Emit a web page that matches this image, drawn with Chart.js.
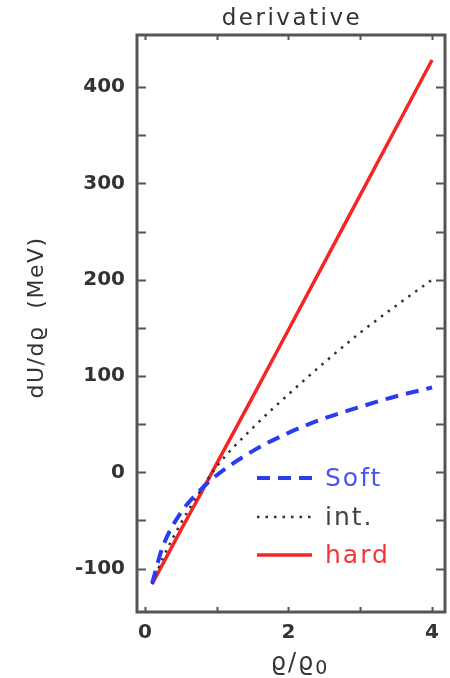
<!DOCTYPE html>
<html>
<head>
<meta charset="utf-8">
<script src="https://cdn.jsdelivr.net/npm/chart.js@4/dist/chart.umd.min.js"></script>
<style>
  html, body { margin: 0; padding: 0; background: #fff; }
  #wrap { width: 450px; height: 678px; }
</style>
</head>
<body>
<div id="wrap"><canvas id="c" width="450" height="678"></canvas></div>
<script>
// density ratio rho/rho0 and derivative of the potential (MeV)
const densities   = [0.1, 0.25, 0.5, 0.75, 1, 1.5, 2, 2.5, 3, 3.5, 4];
const softValues  = [-115, -77, -42, -20, -3, 22, 41, 56, 68, 79, 88];
const intValues   = [-116, -89, -53, -22, 6, 46, 81, 114, 145, 173, 200];
const hardValues  = [-116, -95, -60, -26, 9, 78, 148, 218, 288, 358, 428];
const seriesLabels = ['Soft', 'int.', 'hard'];
const xTickValues = [0, 2, 4];
const yTickValues = [-100, 0, 100, 200, 300, 400];
const chartTitle = 'derivative';
const xTitleMain = 'ϱ/ϱ';
const xTitleSub = '0';
const yTitle = 'dU/dϱ  (MeV)';

const FONT = 'DejaVu Sans';
const INK = '#333';

const pts = vals => densities.map((x, i) => ({ x, y: vals[i] }));

// frame, inward tick marks, titles and the in-plot legend
const decorations = {
  id: 'decorations',
  afterDraw(chart) {
    const ctx = chart.ctx;
    const a = chart.chartArea;
    const xs = chart.scales.x, ys = chart.scales.y;
    ctx.save();

    // inward ticks
    ctx.strokeStyle = '#555';
    ctx.lineWidth = 2;
    ctx.beginPath();
    for (let v = -100; v <= 400; v += 50) {
      const y = Math.round(ys.getPixelForValue(v)) + 0.5;
      ctx.moveTo(a.left, y); ctx.lineTo(a.left + 9, y);
      ctx.moveTo(a.right - 9, y); ctx.lineTo(a.right, y);
    }
    for (let v = 0; v <= 4; v += 1) {
      const x = Math.round(xs.getPixelForValue(v)) + 0.5;
      ctx.moveTo(x, a.bottom); ctx.lineTo(x, a.bottom - 5);
      ctx.moveTo(x, a.top); ctx.lineTo(x, a.top + 5);
    }
    ctx.stroke();

    // frame
    ctx.lineWidth = 3;
    ctx.strokeStyle = '#555';
    ctx.strokeRect(a.left, a.top, a.right - a.left, a.bottom - a.top);

    // main title
    ctx.fillStyle = INK;
    ctx.textAlign = 'center';
    ctx.textBaseline = 'middle';
    ctx.font = `23px "${FONT}"`;
    ctx.letterSpacing = '2.5px';
    ctx.fillText(chartTitle, (a.left + a.right) / 2 + 1, 19);

    // x axis title: rho / rho0 with a lowered zero
    ctx.font = `24px "${FONT}"`;
    ctx.letterSpacing = '2px';
    ctx.textAlign = 'left';
    const mainW = ctx.measureText(xTitleMain).width;
    ctx.font = `19px "${FONT}"`;
    const subW = ctx.measureText(xTitleSub).width;
    const startX = 300 - (mainW + subW) / 2;
    ctx.font = `24px "${FONT}"`;
    ctx.fillText(xTitleMain, startX, 664);
    ctx.font = `19px "${FONT}"`;
    ctx.fillText(xTitleSub, startX + mainW, 669);

    // y axis title
    ctx.save();
    ctx.translate(37, (a.top + a.bottom) / 2 - 6);
    ctx.rotate(-Math.PI / 2);
    ctx.textAlign = 'center';
    ctx.font = `22px "${FONT}"`;
    ctx.letterSpacing = '1.5px';
    ctx.fillText(yTitle, 0, 0);
    ctx.restore();

    // legend inside the plot
    const rows = [478, 517, 555];
    const x0 = a.left + 120, x1 = a.left + 175, tx = a.left + 188;
    chart.data.datasets.forEach((ds, i) => {
      const y = rows[i];
      ctx.save();
      ctx.strokeStyle = ds.borderColor;
      ctx.lineWidth = ds.borderWidth;
      ctx.setLineDash(ds.borderDash || []);
      ctx.beginPath();
      ctx.moveTo(x0, y); ctx.lineTo(x1, y);
      ctx.stroke();
      ctx.restore();
      ctx.fillStyle = ds.legendText;
      ctx.textAlign = 'left';
      ctx.textBaseline = 'middle';
      ctx.font = `25px "${FONT}"`;
      ctx.letterSpacing = '2px';
      ctx.fillText(ds.label, tx, y + 1);
    });

    ctx.restore();
  }
};

new Chart(document.getElementById('c'), {
  type: 'line',
  data: {
    datasets: [
      { label: seriesLabels[0], data: pts(softValues), borderColor: '#2b3cf0', legendText: '#4a55f0',
        borderWidth: 4, borderDash: [13, 8] },
      { label: seriesLabels[1], data: pts(intValues), borderColor: '#333', legendText: '#444',
        borderWidth: 2.5, borderDash: [2.5, 6] },
      { label: seriesLabels[2], data: pts(hardValues), borderColor: '#f52525', legendText: '#f53535',
        borderWidth: 3.5 }
    ]
  },
  options: {
    responsive: false,
    devicePixelRatio: 1,
    animation: false,
    layout: { padding: { top: 35, right: 5, left: 0, bottom: 0 } },
    elements: {
      point: { radius: 0 },
      line: { cubicInterpolationMode: 'monotone', fill: false }
    },
    plugins: { legend: { display: false }, title: { display: false }, tooltip: { enabled: false } },
    scales: {
      x: {
        type: 'linear', position: 'bottom', min: -0.11, max: 4.18,
        grid: { display: false, drawTicks: false }, border: { display: false },
        ticks: { padding: 9, color: INK, font: { family: FONT, size: 20, weight: 'bold' } },
        afterBuildTicks: s => { s.ticks = xTickValues.map(v => ({ value: v })); },
        afterFit: s => { s.height = 66; }
      },
      y: {
        type: 'linear', position: 'left', min: -145, max: 454,
        grid: { display: false, drawTicks: false }, border: { display: false },
        ticks: { padding: 12, color: INK, font: { family: FONT, size: 20, weight: 'bold' } },
        afterBuildTicks: s => { s.ticks = yTickValues.map(v => ({ value: v })); },
        afterFit: s => { s.width = 137; }
      }
    }
  },
  plugins: [decorations]
});
</script>
</body>
</html>
